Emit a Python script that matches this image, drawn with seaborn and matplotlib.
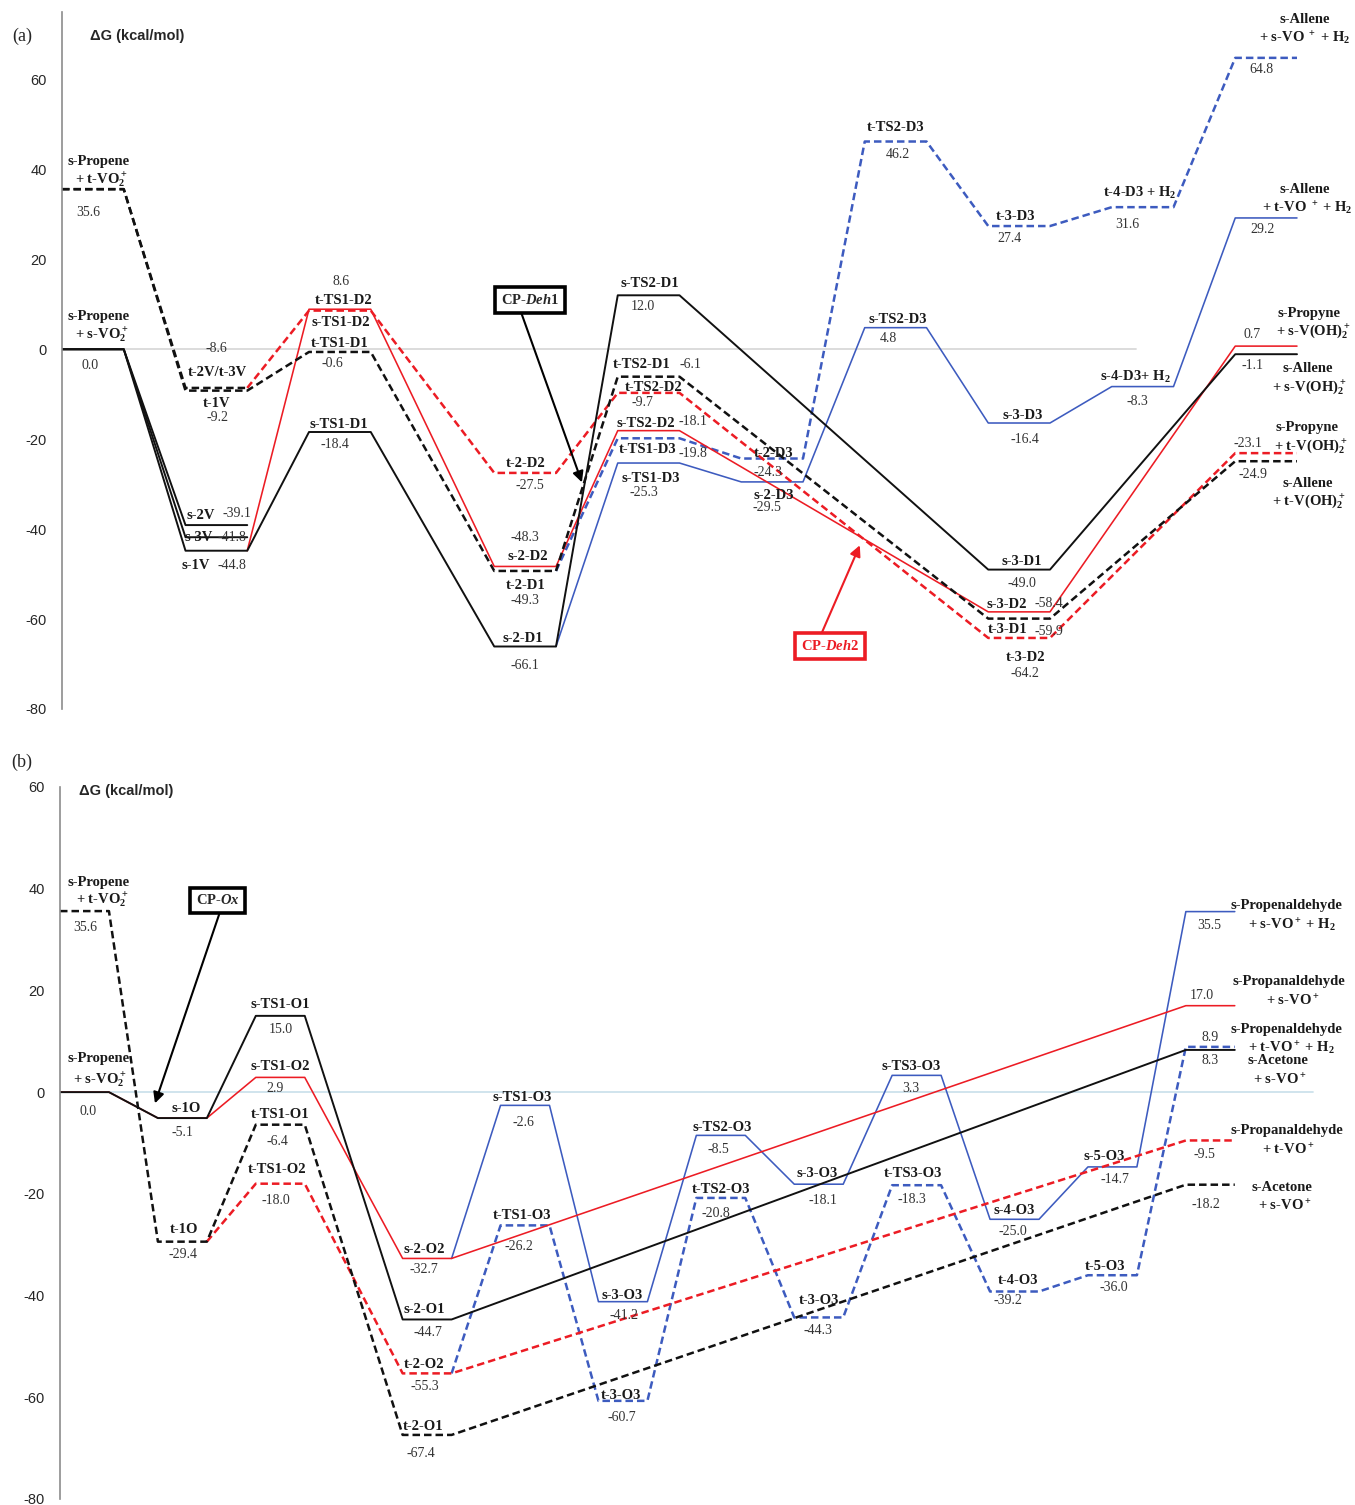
import numpy as np
import pandas as pd
import matplotlib
matplotlib.use('Agg')
import matplotlib.pyplot as plt
import seaborn as sns

sns.set_style('white')
plt.rcParams['font.family'] = ['Liberation Serif', 'DejaVu Serif']
plt.rcParams['axes.unicode_minus'] = False
plt.rcParams['mathtext.fontset'] = 'custom'
plt.rcParams['mathtext.rm'] = 'Liberation Serif:bold'
plt.rcParams['mathtext.it'] = 'Liberation Serif:italic:bold'
plt.rcParams['mathtext.bf'] = 'Liberation Serif:bold'

BLACK = '#111111'
RED = '#ec1c24'
BLUE = '#3d5bbf'

# ==========================
# Panel (a) data: dehydrogenation
# ==========================
a_cols = [0, 1, 2, 3.5, 4.5, 5.5, 6.5, 7.5, 8.5, 9.5]   # stage column positions
a_ticks = [-80, -60, -40, -20, 0, 20, 40, 60]

a_sD1_idx = [0, 1, 2, 3, 4, 7, 9]
a_sD1 = [0.0, -44.8, -18.4, -66.1, 12.0, -49.0, -1.1]
a_s2V_idx = [0, 1]
a_s2V = [0.0, -39.1]
a_s3V_idx = [0, 1]
a_s3V = [0.0, -41.8]
a_sD2_idx = [1, 2, 3, 4, 7, 9]
a_sD2 = [-44.8, 8.9, -48.3, -18.1, -58.4, 0.7]
a_tD1_idx = [0, 1, 2, 3, 4, 7, 9]
a_tD1 = [35.6, -9.2, -0.6, -49.3, -6.1, -59.9, -24.9]
a_t2V_idx = [0, 1]
a_t2V = [35.6, -8.6]
a_tD2_idx = [1, 2, 3, 4, 7, 9]
a_tD2 = [-8.6, 8.6, -27.5, -9.7, -64.2, -23.1]
a_sD3_idx = [3, 4, 5, 6, 7, 8, 9]
a_sD3 = [-66.1, -25.3, -29.5, 4.8, -16.4, -8.3, 29.2]
a_tD3_idx = [3, 4, 5, 6, 7, 8, 9]
a_tD3 = [-49.3, -19.8, -24.3, 46.2, 27.4, 31.6, 64.8]

# ==========================
# Panel (b) data: oxidation
# ==========================
b_cols = [0, 1, 2, 3.5, 4.5, 5.5, 6.5, 7.5, 8.5, 9.5, 10.5, 11.5]
b_ticks = [-80, -60, -40, -20, 0, 20, 40, 60]

b_sO1_idx = [0, 1, 2, 3, 11]
b_sO1 = [0.0, -5.1, 15.0, -44.7, 8.3]
b_sO2_idx = [0, 1, 2, 3, 11]
b_sO2 = [0.0, -5.1, 2.9, -32.7, 17.0]
b_tO1_idx = [0, 1, 2, 3, 11]
b_tO1 = [35.6, -29.4, -6.4, -67.4, -18.2]
b_tO2_idx = [1, 2, 3, 11]
b_tO2 = [-29.4, -18.0, -55.3, -9.5]
b_sO3_idx = [3, 4, 5, 6, 7, 8, 9, 10, 11]
b_sO3 = [-32.7, -2.6, -41.2, -8.5, -18.1, 3.3, -25.0, -14.7, 35.5]
b_tO3_idx = [3, 4, 5, 6, 7, 8, 9, 10, 11]
b_tO3 = [-55.3, -26.2, -60.7, -20.8, -44.3, -18.3, -39.2, -36.0, 8.9]

# pathways: (column idx, values, colour, dashed, branch-from-existing-level)
a_paths = [
    (a_tD3_idx, a_tD3, BLUE, True, True),
    (a_sD3_idx, a_sD3, BLUE, False, True),
    (a_tD2_idx, a_tD2, RED, True, True),
    (a_sD2_idx, a_sD2, RED, False, True),
    (a_t2V_idx, a_t2V, BLACK, True, False),
    (a_tD1_idx, a_tD1, BLACK, True, False),
    (a_s2V_idx, a_s2V, BLACK, False, False),
    (a_s3V_idx, a_s3V, BLACK, False, False),
    (a_sD1_idx, a_sD1, BLACK, False, False),
]
b_paths = [
    (b_tO3_idx, b_tO3, BLUE, True, True),
    (b_sO3_idx, b_sO3, BLUE, False, True),
    (b_tO2_idx, b_tO2, RED, True, True),
    (b_sO2_idx, b_sO2, RED, False, False),
    (b_tO1_idx, b_tO1, BLACK, True, False),
    (b_sO1_idx, b_sO1, BLACK, False, False),
]

# Labels: (text, x, y)
a_names = [
    ("s-Propene", 0.30, 41.8), ("+ t-VO$_2^+$", 0.32, 37.6),
    ("s-Propene", 0.30, 7.3), ("+ s-VO$_2^+$", 0.32, 3.1),
    ("t-2V/t-3V", 1.26, -5.1), ("t-1V", 1.25, -12.0),
    ("s-2V", 1.12, -36.9), ("s-3V", 1.11, -41.8), ("s-1V", 1.08, -48.0),
    ("t-TS1-D2", 2.28, 10.9), ("s-TS1-D2", 2.26, 6.0), ("t-TS1-D1", 2.25, 1.3),
    ("s-TS1-D1", 2.24, -16.7),
    ("t-2-D2", 3.75, -25.4), ("s-2-D2", 3.77, -46.0), ("t-2-D1", 3.75, -52.5),
    ("s-2-D1", 3.73, -64.3),
    ("s-TS2-D1", 4.76, 14.7), ("t-TS2-D1", 4.69, -3.3), ("t-TS2-D2", 4.79, -8.5),
    ("s-TS2-D2", 4.73, -16.5), ("t-TS1-D3", 4.74, -22.2), ("s-TS1-D3", 4.77, -28.7),
    ("t-2-D3", 5.76, -23.1), ("s-2-D3", 5.76, -32.5),
    ("t-TS2-D3", 6.75, 49.4), ("s-TS2-D3", 6.77, 6.7),
    ("t-3-D3", 7.72, 29.6), ("s-3-D3", 7.78, -14.7),
    ("t-4-D3 + H$_2$", 8.73, 34.7), ("s-4-D3+ H$_2$", 8.69, -6.2),
    ("s-3-D1", 7.77, -47.1), ("s-3-D2", 7.65, -56.7), ("t-3-D1", 7.66, -62.3),
    ("t-3-D2", 7.80, -68.5),
    ("s-Allene", 10.06, 73.4), ("+ s-VO $^+$ + H$_2$", 10.06, 69.2),
    ("s-Allene", 10.06, 35.6), ("+ t-VO $^+$ + H$_2$", 10.08, 31.4),
    ("s-Propyne", 10.10, 8.0), ("+ s-V(OH)$_2^+$", 10.13, 3.8),
    ("s-Allene", 10.09, -4.2), ("+ s-V(OH)$_2^+$", 10.10, -8.5),
    ("s-Propyne", 10.08, -17.3), ("+ t-V(OH)$_2^+$", 10.11, -21.6),
    ("s-Allene", 10.09, -29.8), ("+ t-V(OH)$_2^+$", 10.10, -34.0),
]
a_values = [
    ("35.6", 0.21, 30.5), ("0.0", 0.23, -3.6), ("-8.6", 1.25, 0.2), ("-9.2", 1.26, -15.1),
    ("-39.1", 1.42, -36.5), ("-41.8", 1.38, -41.8), ("-44.8", 1.38, -48.0),
    ("8.6", 2.26, 15.1), ("-0.6", 2.19, -3.1), ("-18.4", 2.21, -21.1),
    ("-27.5", 3.79, -30.2), ("-48.3", 3.75, -41.8), ("-49.3", 3.75, -55.8), ("-66.1", 3.75, -70.3),
    ("12.0", 4.70, 9.6), ("-6.1", 5.09, -3.3), ("-9.7", 4.70, -11.8), ("-18.1", 5.11, -16.0),
    ("-19.8", 5.11, -23.1), ("-25.3", 4.71, -31.8),
    ("-24.3", 5.72, -27.4), ("-29.5", 5.71, -35.1),
    ("46.2", 6.77, 43.4), ("4.8", 6.69, 2.4),
    ("27.4", 7.67, 24.7), ("-16.4", 7.80, -20.0), ("31.6", 8.63, 27.8), ("-8.3", 8.71, -11.6),
    ("-49.0", 7.77, -52.0), ("-58.4", 7.99, -56.5), ("-59.9", 7.99, -62.7), ("-64.2", 7.80, -72.0),
    ("64.8", 9.71, 62.3), ("29.2", 9.72, 26.7), ("0.7", 9.64, 3.3), ("-1.1", 9.64, -3.6),
    ("-23.1", 9.60, -20.9), ("-24.9", 9.64, -27.8),
]
b_names = [
    ("s-Propene", 0.39, 41.3), ("+ t-VO$_2^+$", 0.43, 37.7),
    ("s-Propene", 0.39, 6.7), ("+ s-VO$_2^+$", 0.41, 2.3),
    ("s-1O", 1.29, -3.2), ("t-1O", 1.27, -27.0),
    ("s-TS1-O1", 2.25, 17.3), ("s-TS1-O2", 2.25, 5.1), ("t-TS1-O1", 2.25, -4.4),
    ("t-TS1-O2", 2.22, -15.2),
    ("s-2-O2", 3.72, -31.0), ("s-2-O1", 3.72, -42.7), ("t-2-O2", 3.72, -53.6),
    ("t-2-O1", 3.71, -65.8),
    ("s-TS1-O3", 4.72, -1.0), ("t-TS1-O3", 4.72, -24.2),
    ("s-3-O3", 5.74, -40.0), ("t-3-O3", 5.73, -59.6),
    ("s-TS2-O3", 6.76, -7.0), ("t-TS2-O3", 6.75, -19.2),
    ("s-3-O3", 7.73, -16.0), ("t-3-O3", 7.75, -41.0),
    ("s-TS3-O3", 8.69, 5.0), ("t-TS3-O3", 8.71, -16.0),
    ("s-4-O3", 9.75, -23.2), ("t-4-O3", 9.79, -37.0),
    ("s-5-O3", 10.67, -12.6), ("t-5-O3", 10.67, -34.2),
    ("s-Propenaldehyde", 12.53, 36.7), ("+ s-VO$^+$ + H$_2$", 12.58, 32.8),
    ("s-Propanaldehyde", 12.55, 21.8), ("+ s-VO$^+$", 12.59, 18.0),
    ("s-Propenaldehyde", 12.53, 12.3), ("+ t-VO$^+$ + H$_2$", 12.58, 8.7),
    ("s-Acetone", 12.44, 6.2), ("+ s-VO$^+$", 12.46, 2.4),
    ("s-Propanaldehyde", 12.53, -7.6), ("+ t-VO$^+$", 12.55, -11.4),
    ("s-Acetone", 12.48, -18.8), ("+ s-VO$^+$", 12.51, -22.4),
]
b_values = [
    ("35.6", 0.26, 32.3), ("0.0", 0.29, -3.8), ("-5.1", 1.25, -8.0), ("-29.4", 1.26, -32.0),
    ("15.0", 2.26, 12.3), ("2.9", 2.20, 0.8), ("-6.4", 2.22, -9.8), ("-18.0", 2.20, -21.4),
    ("-32.7", 3.72, -34.8), ("-44.7", 3.76, -47.2), ("-55.3", 3.73, -57.9), ("-67.4", 3.69, -71.0),
    ("-2.6", 4.73, -6.0), ("-26.2", 4.69, -30.4), ("-41.2", 5.76, -43.9), ("-60.7", 5.74, -64.0),
    ("-8.5", 6.73, -11.2), ("-20.8", 6.70, -23.8), ("-18.1", 7.79, -21.4), ("-44.3", 7.74, -46.8),
    ("3.3", 8.69, 0.8), ("-18.3", 8.70, -21.2), ("-25.0", 9.73, -27.4), ("-39.2", 9.68, -41.0),
    ("-14.7", 10.78, -17.2), ("-36.0", 10.76, -38.4),
    ("35.5", 11.74, 32.7), ("17.0", 11.66, 19.1), ("8.9", 11.75, 10.8), ("8.3", 11.75, 6.2),
    ("-9.5", 11.69, -12.2), ("-18.2", 11.71, -22.0),
]

PLATEAU = 0.5


def path_frame(idx, vals, cols, branch):
    xs, ys = [], []
    for i, (c, v) in enumerate(zip(idx, vals)):
        x0 = cols[c]
        if not (branch and i == 0):
            xs.append(x0)
            ys.append(v)
        xs.append(x0 + PLATEAU)
        ys.append(v)
    return pd.DataFrame({'x': xs, 'y': ys})


def draw_panel(ax, paths, cols, names, values, ticks, ylim, xmax, zero_color, zero_end):
    ax.axhline(0, xmin=0, xmax=zero_end / xmax, color=zero_color, lw=1.3, zorder=0)
    for idx, vals, color, dashed, branch in paths:
        df = path_frame(idx, vals, cols, branch)
        if dashed:
            sns.lineplot(data=df, x='x', y='y', sort=False, estimator=None, ax=ax,
                         color=color, linewidth=1.8, linestyle=(0, (3.0, 1.6)))
        else:
            sns.lineplot(data=df, x='x', y='y', sort=False, estimator=None, ax=ax,
                         color=color, linewidth=1.4 if color == BLACK else 1.15)
    for txt, x, y in names:
        ax.text(x, y, txt, ha='center', va='center', fontsize=10.5, fontweight='bold',
                color='#1a1a1a', zorder=5)
    for txt, x, y in values:
        ax.text(x, y, txt, ha='center', va='center', fontsize=10, color='#333333', zorder=5)

    ax.set_xlim(0, xmax)
    ax.set_ylim(*ylim)
    ax.set_xlabel('')
    ax.set_ylabel('')
    ax.set_xticks([])
    ax.set_yticks(ticks, labels=[str(t) for t in ticks], fontfamily='Liberation Sans',
                  fontsize=10.5)
    ax.tick_params(axis='y', direction='out', length=3, width=1, color='#8c8c8c', pad=8)
    for s in ['top', 'right', 'bottom']:
        ax.spines[s].set_visible(False)
    ax.spines['left'].set_color('#8c8c8c')
    ax.spines['left'].set_linewidth(1.2)
    ax.patch.set_alpha(0)


fig = plt.figure(figsize=(13.55, 15.05), dpi=100)
W, H = 1355, 1505

ax_a = fig.add_axes([62 / W, 1 - 709 / H, 1 - 62 / W, (709 - 12) / H])
ax_b = fig.add_axes([60 / W, 1 - 1499 / H, 1 - 60 / W, (1499 - 787) / H])

draw_panel(ax_a, a_paths, a_cols, a_names, a_values, a_ticks, (-80, 75),
           (W - 62) / 123.5, '#d9d9d9', 8.7)
draw_panel(ax_b, b_paths, b_cols, b_names, b_values, b_ticks, (-80, 60),
           (W - 60) / 97.9, '#cde2ec', 12.8)

# axis titles and panel letters
ax_a.text(0.61, 69.6, r'ΔG (kcal/mol)', ha='center', va='center', fontsize=10.5,
          fontweight='bold', fontfamily='Liberation Sans')
ax_b.text(0.68, 59.2, r'ΔG (kcal/mol)', ha='center', va='center', fontsize=10.5,
          fontweight='bold', fontfamily='Liberation Sans')
fig.text(22 / W, 1 - 36 / H, '(a)', ha='center', va='center', fontsize=13)
fig.text(22 / W, 1 - 762 / H, '(b)', ha='center', va='center', fontsize=13)

# critical point boxes with arrows
ax_a.annotate('', xy=(4.21, -29.6), xytext=(3.72, 8.0),
              arrowprops=dict(arrowstyle='-|>', color='black', lw=1.5,
                              mutation_scale=16, shrinkA=0, shrinkB=0))
ax_a.text(3.79, 10.9, r'CP-$\mathit{Deh1}$', ha='center', va='center', fontsize=10.5,
          fontweight='bold', zorder=6,
          bbox=dict(boxstyle='square,pad=0.4', fc='white', ec='black', lw=2.6))
ax_a.annotate('', xy=(6.46, -43.6), xytext=(6.15, -63.2),
              arrowprops=dict(arrowstyle='-|>', color=RED, lw=1.5,
                              mutation_scale=16, shrinkA=0, shrinkB=0))
ax_a.text(6.22, -66.0, r'CP-$\mathit{Deh2}$', ha='center', va='center', fontsize=10.5,
          fontweight='bold', color=RED, zorder=6,
          bbox=dict(boxstyle='square,pad=0.4', fc='white', ec=RED, lw=2.6))
ax_b.annotate('', xy=(0.97, -2.2), xytext=(1.63, 35.2),
              arrowprops=dict(arrowstyle='-|>', color='black', lw=1.5,
                              mutation_scale=16, shrinkA=0, shrinkB=0))
ax_b.text(1.61, 37.7, r'CP-$\mathit{Ox}$', ha='center', va='center', fontsize=10.5,
          fontweight='bold', zorder=6,
          bbox=dict(boxstyle='square,pad=0.4', fc='white', ec='black', lw=2.6))

fig.savefig('out.png', dpi=100, facecolor='white')
